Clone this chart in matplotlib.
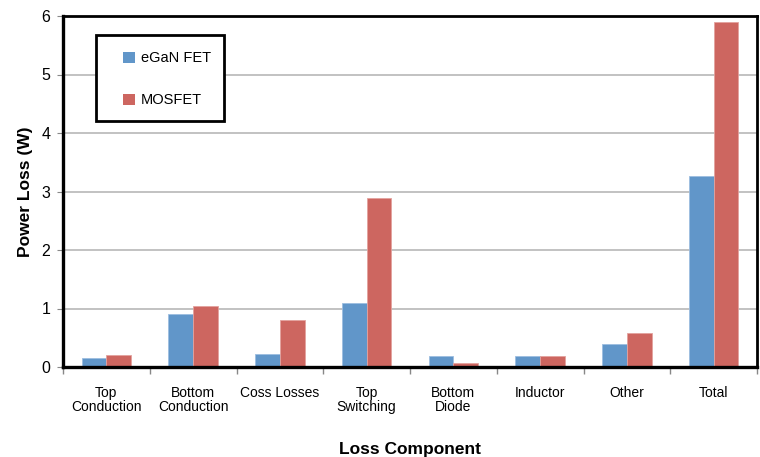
import matplotlib
matplotlib.use("Agg")
import matplotlib.pyplot as plt
from matplotlib.patches import Rectangle
import numpy as np

plt.rcParams["font.family"] = ["Liberation Sans", "DejaVu Sans"]

categories = ["Top\nConduction", "Bottom\nConduction", "Coss Losses", "Top\nSwitching",
              "Bottom\nDiode", "Inductor", "Other", "Total"]
egan = [0.16, 0.91, 0.23, 1.09, 0.18, 0.18, 0.39, 3.26]
mosfet = [0.21, 1.04, 0.81, 2.89, 0.07, 0.18, 0.58, 5.89]

BLUE = "#6196C9"
RED = "#CD6660"

fig = plt.figure(figsize=(7.6, 4.57), dpi=100)
ax = fig.add_axes([63 / 760, 1 - 367 / 457, 694 / 760, 351 / 457])

x = np.arange(len(categories))
w = 0.285
ax.bar(x - w / 2, egan, w, color=BLUE, edgecolor="#9cbde0", linewidth=0.6, zorder=3, label="eGaN FET")
ax.bar(x + w / 2, mosfet, w, color=RED, edgecolor="#e3a29e", linewidth=0.6, zorder=3, label="MOSFET")

ax.set_xlim(-0.5, len(categories) - 0.5)
ax.set_ylim(0, 6)
ax.set_yticks(range(7))
ax.yaxis.grid(True, color="#b8b8b8", linewidth=1.2, zorder=0)
ax.set_axisbelow(True)

ax.set_xticks(x)
ax.set_xticklabels(categories, fontsize=10, linespacing=0.95)
ax.tick_params(axis="x", length=0, pad=14)
ax.set_xticks(np.arange(-0.5, len(categories) + 0.5, 1), minor=True)
ax.tick_params(axis="x", which="minor", length=5, color="#888888", width=1)
ax.tick_params(axis="y", labelsize=11.5, length=4, color="#888888", pad=5)

for side in ["left", "bottom"]:
    ax.spines[side].set_linewidth(2.4)
for side in ["top", "right"]:
    ax.spines[side].set_linewidth(2.0)
for s in ax.spines.values():
    s.set_color("black")
    s.set_zorder(4)

ax.set_ylabel("Power Loss (W)", fontsize=12.5, fontweight="bold", labelpad=6)
ax.set_xlabel("Loss Component", fontsize=12.5, fontweight="bold", labelpad=20)

# legend box drawn separately so the padding can match the original
ax.add_patch(Rectangle((33 / 694, 0.701), 128 / 694, 0.245, transform=ax.transAxes,
                       facecolor="white", edgecolor="black", linewidth=2.0, zorder=5))
leg = ax.legend(loc="upper left", bbox_to_anchor=(60 / 694, 0.899),
                frameon=False, fontsize=10.5, handlelength=0.8,
                handleheight=0.8, labelspacing=1.9, borderpad=0, borderaxespad=0,
                handletextpad=0.45)
leg.set_zorder(6)
for h in leg.legend_handles:
    h.set_edgecolor("none")

fig.savefig("out.png", dpi=100, facecolor="white")
